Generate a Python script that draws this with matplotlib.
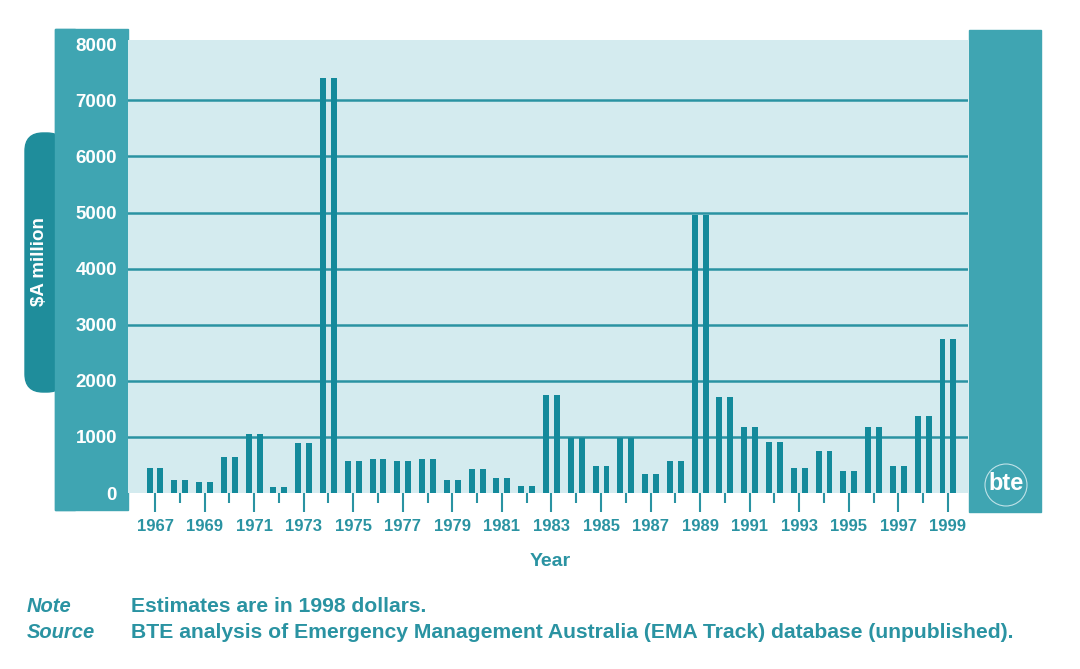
import numpy as np
import matplotlib
matplotlib.use("Agg")
import matplotlib.pyplot as plt
from matplotlib.patches import Rectangle, FancyBboxPatch, Circle

# values, $A million (1998 dollars)
years = list(range(1967, 2000))
costs = [440, 230, 200, 650, 1050, 100, 885, 7400, 570, 610,
         570, 600, 240, 430, 260, 125, 1750, 985, 490, 985,
         330, 570, 4960, 1705, 1180, 910, 440, 755, 400, 1180,
         490, 1370, 2745]
yticks = [0, 1000, 2000, 3000, 4000, 5000, 6000, 7000, 8000]

W, H = 1080, 669
teal = "#2a93a2"
bar_col = "#138a9b"
panel = "#3fa5b2"
pill = "#1f8d9b"
bg = "#d4ebef"
font = "Liberation Sans"

fig = plt.figure(figsize=(W / 100, H / 100), dpi=100)
fig.patch.set_facecolor("white")

def fx(px):
    return px / W

def fy(py):
    return 1 - py / H

# background layer in pixel coordinates
back = fig.add_axes([0, 0, 1, 1], zorder=-1)
back.set_xlim(0, W)
back.set_ylim(H, 0)
back.axis("off")
back.add_patch(Rectangle((55, 29), 73, 481, color=panel))
back.add_patch(Rectangle((969, 30), 72, 482, color=panel))
back.add_patch(FancyBboxPatch((25, 133), 40, 259,
                              boxstyle="round,pad=0,rounding_size=18", color=pill))
back.add_patch(Rectangle((55, 29), 20, 481, color=panel))
back.text(40, 262, "$A million", rotation=90, ha="center", va="center",
          color="white", fontsize=13.5, fontweight="bold", family=font)

# bte logo
back.text(1006, 484, "bte", ha="center", va="center", color="white",
          fontsize=17, fontweight="bold", family=font)
back.add_patch(Circle((1006, 485), 21, fill=False, ec="#bfe2e8", lw=0.8))

ax = fig.add_axes([fx(128), fy(493), fx(968) - fx(128), fy(40) - fy(493)])
ax.set_facecolor(bg)
ax.set_xlim(1965.91, 1999.81)
ax.set_ylim(0, 8075)

for v in yticks[1:-1]:
    ax.axhline(v, color=teal, lw=1.8, zorder=1)

x = np.array(years, dtype=float)
ax.bar(x - 0.22, costs, width=0.24, color=bar_col, zorder=2)
ax.bar(x + 0.22, costs, width=0.24, color=bar_col, zorder=2)

for s in ax.spines.values():
    s.set_visible(False)

ax.set_xticks([y for y in years if y % 2 == 1])
ax.set_xticks([y for y in years if y % 2 == 0], minor=True)
ax.tick_params(axis="x", which="major", length=13.5, width=1.5, color=teal,
               pad=5, labelcolor=teal, labelsize=12)
ax.tick_params(axis="x", which="minor", length=7, width=1.5, color=teal)
for lab in ax.get_xticklabels():
    lab.set_family(font)
    lab.set_fontweight("bold")

ax.set_yticks(yticks)
ax.tick_params(axis="y", length=0, pad=8, labelcolor="white", labelsize=13.5)
for lab in ax.get_yticklabels():
    lab.set_family(font)
    lab.set_fontweight("bold")

fig.text(fx(550), fy(562), "Year", ha="center", va="center", color=teal,
         fontsize=14, fontweight="bold", family=font)

fig.text(fx(27), fy(606), "Note", ha="left", va="center", color=teal, fontsize=14.5,
         fontweight="bold", style="italic", family=font)
fig.text(fx(27), fy(633), "Source", ha="left", va="center", color=teal, fontsize=14.5,
         fontweight="bold", style="italic", family=font)
fig.text(fx(131), fy(606), "Estimates are in 1998 dollars.", ha="left", va="center",
         color=teal, fontsize=15.2, fontweight="bold", family=font)
fig.text(fx(131), fy(633),
         "BTE analysis of Emergency Management Australia (EMA Track) database (unpublished).",
         ha="left", va="center", color=teal, fontsize=15.2, fontweight="bold", family=font)

fig.savefig("out.png", dpi=100)
